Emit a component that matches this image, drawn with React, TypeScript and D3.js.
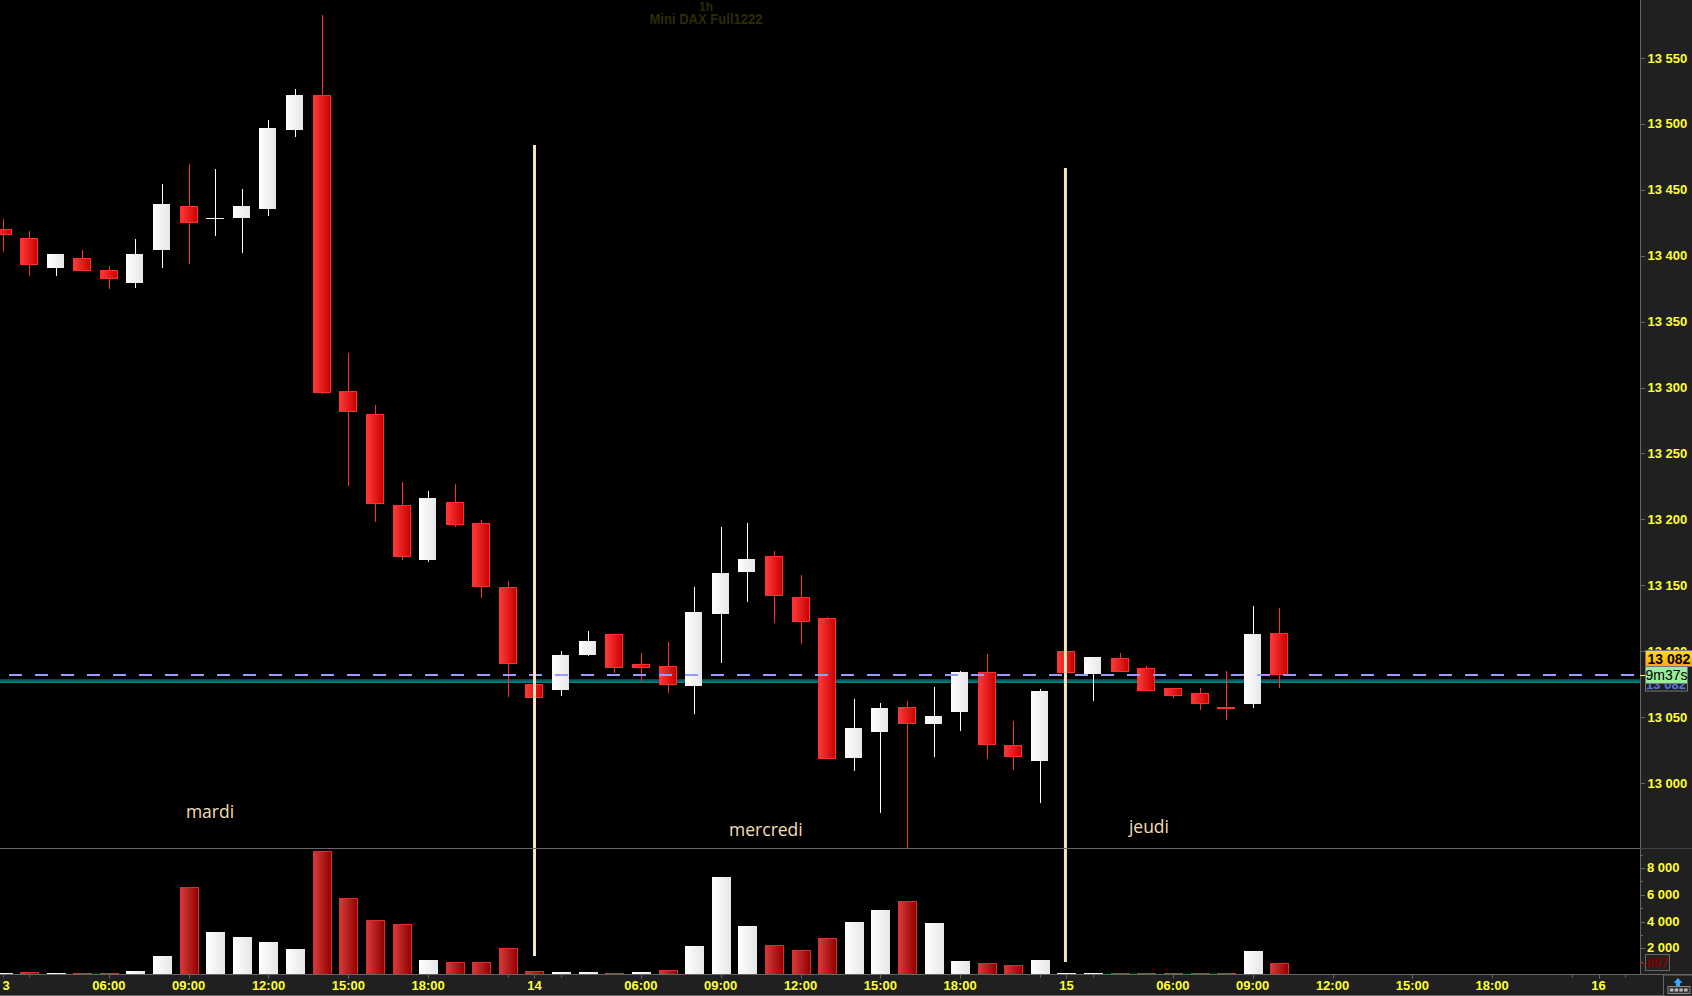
import * as d3 from "d3";

const opens = [13420, 13413.5, 13391, 13398.5, 13389, 13379.5, 13404.5, 13438, 13428.5, 13428.5, 13435.5, 13495.5, 13522, 13297, 13280, 13211, 13169, 13213.5, 13197, 13148.5, 13075, 13070.5, 13097, 13113, 13090.5, 13089, 13073.5, 13128, 13160, 13172, 13141, 13125, 13019, 13038.5, 13057.5, 13045, 13054, 13084, 13029, 13016.5, 13100, 13082.5, 13095, 13087.5, 13072, 13068.5, 13057.5, 13060, 13114];
const closes = [13416, 13393, 13401.5, 13388.5, 13382, 13401.5, 13439.5, 13425, 13428.5, 13438, 13497, 13522, 13296, 13281.5, 13211.5, 13171.5, 13216, 13196, 13148.5, 13090.5, 13064.5, 13097, 13107.5, 13087.5, 13087.5, 13074.5, 13129.5, 13159.5, 13170, 13141.5, 13122.5, 13018.5, 13041.5, 13057, 13045, 13051, 13084, 13029, 13019.5, 13070, 13083.5, 13095.5, 13084.5, 13069.5, 13066, 13060, 13056.5, 13113, 13082];
const highs = [13428, 13419, 13401.5, 13404.5, 13392.5, 13413, 13454.5, 13469.5, 13466, 13450.5, 13503, 13526.5, 13582.5, 13326.5, 13286.5, 13228, 13221.5, 13226.5, 13199.5, 13153.5, 13075, 13100, 13115.5, 13113, 13098.5, 13107, 13148.5, 13194, 13197.5, 13176, 13158, 13126, 13063.5, 13060.5, 13062, 13073, 13085, 13098, 13047, 13071.5, 13100, 13095.5, 13098.5, 13089, 13072, 13072, 13085, 13134.5, 13133];
const lows = [13403, 13385, 13385, 13388.5, 13375, 13375.5, 13390.5, 13394, 13415, 13402, 13430, 13490, 13295, 13225, 13198, 13169, 13167.5, 13194.5, 13140.5, 13065.5, 13064.5, 13066, 13096.5, 13083.5, 13077.5, 13068.5, 13052.5, 13091, 13137.5, 13121.5, 13105.5, 13018.5, 13009, 12977, 12950.5, 13019.5, 13039.5, 13018, 13010, 12985, 13074.5, 13062, 13084.5, 13069.5, 13064.5, 13055.5, 13048, 13057, 13072];

const volumes = [150, 250, 175, 150, 175, 325, 1450, 6550, 3250, 2875, 2500, 1975, 9250, 5725, 4075, 3850, 1150, 1000, 1000, 2050, 325, 250, 250, 175, 250, 400, 2200, 7300, 3700, 2275, 1900, 2800, 4000, 4825, 5500, 3925, 1075, 925, 775, 1150, 150, 175, 175, 150, 150, 175, 175, 1825, 897];
const volumeUp = [1, 0, 1, 0, 0, 1, 1, 0, 1, 1, 1, 1, 0, 0, 0, 0, 1, 0, 0, 0, 0, 1, 1, 0, 1, 0, 1, 1, 1, 0, 0, 0, 1, 1, 0, 1, 1, 0, 0, 1, 1, 1, 0, 0, 0, 0, 0, 1, 0];

const timeTicks = [4, 7, 10, 13, 16, 20, 24, 27, 30, 33, 36, 40, 44, 47, 50, 53, 56, 60];
const timeLabels = ["06:00", "09:00", "12:00", "15:00", "18:00", "14", "06:00", "09:00", "12:00", "15:00", "18:00", "15", "06:00", "09:00", "12:00", "15:00", "18:00", "16"];
const minorTimeTicks = [0, 1, 19, 21, 39, 41, 59, 61];

const priceTicks = [13000, 13050, 13100, 13150, 13200, 13250, 13300, 13350, 13400, 13450, 13500, 13550];
const volumeTicks = [2000, 4000, 6000, 8000];
const minorVolumeTicks = [1000, 3000, 5000, 7000, 9000];

const dayNames = ["mardi", "mercredi", "jeudi"];
const dayNameX = [7.8, 28.7, 43.1];
const dayNameY = [818, 836, 833];

const dayLines = [20, 39.96];
const dayLineTop = [145, 168];
const dayLineBottom = [956, 962];

const lastPrice = 13082;
const tealPrice = 13077.5;

const W = 1692;
const H = 996;
const plotRight = 1640;
const dividerY = 848.5;
const axisY = 974.5;

const x = d3.scaleLinear().domain([0, 60]).range([2.5, 1598.5]);
const y = d3.scaleLinear().domain([13000, 13550]).range([783, 58]);
const yVol = d3.scaleLinear().domain([0, 8000]).range([975, 868]);

const fmt = (v: number) => d3.format(",")(v).replace(",", " ");
const axisFont = "'Liberation Sans', Arial, sans-serif";
const yellow = "#ffff33";

export default function App() {
  return (
    <>
      <style>{"body{margin:0;background:#000}"}</style>
      <svg width={W} height={H} style={{ display: "block" }}>
        <defs>
          <linearGradient id="redBody">
            <stop offset="0" stopColor="#ff3a3a" />
            <stop offset="1" stopColor="#c80000" />
          </linearGradient>
          <linearGradient id="whiteBody">
            <stop offset="0" stopColor="#ffffff" />
            <stop offset="1" stopColor="#e6e6e6" />
          </linearGradient>
          <linearGradient id="redVol">
            <stop offset="0" stopColor="#d83a3a" />
            <stop offset="1" stopColor="#900000" />
          </linearGradient>
          <linearGradient id="teal" x1="0" y1="0" x2="0" y2="1">
            <stop offset="0" stopColor="#004040" />
            <stop offset="1" stopColor="#008c8c" />
          </linearGradient>
          <linearGradient id="gold" x1="0" y1="0" x2="0" y2="1">
            <stop offset="0" stopColor="#ffdd22" />
            <stop offset="1" stopColor="#ffa800" />
          </linearGradient>
        </defs>

        <rect width={W} height={H} fill="#000" />

        {/* title */}
        <g textAnchor="middle" fill="#2d2d00" fontFamily="'Liberation Sans Narrow', 'Liberation Sans', sans-serif">
          <text x={706} y={11} fontSize={12} fontWeight="bold">1h</text>
          <text x={706} y={23.5} fontSize={14} fontWeight="bold" textLength={113} lengthAdjust="spacingAndGlyphs">Mini DAX Full1222</text>
        </g>

        {/* teal level, under the candles */}
        <rect x={0} y={Math.round(y(tealPrice)) - 2} width={plotRight} height={4} fill="url(#teal)" />

        {/* candles */}
        {opens.map((o, i) => {
          const c = closes[i];
          const up = c >= o;
          const top = Math.round(y(Math.max(o, c)));
          const bottom = Math.round(y(Math.min(o, c)));
          const cx = Math.round(x(i));
          const color = up ? "#ffffff" : "#ff3030";
          return (
            <g key={i}>
              <line x1={cx + 0.5} x2={cx + 0.5} y1={Math.round(y(highs[i]))} y2={Math.round(y(lows[i]))} stroke={color} strokeWidth={1} />
              {up ? (
                <rect x={cx - 9} y={top} width={bottom === top ? 18 : 17} height={Math.max(bottom - top, 1)} fill="url(#whiteBody)" />
              ) : (
                <rect x={cx - 8.5} y={top + 0.5} width={17} height={Math.max(bottom - top - 1, 1)} fill="url(#redBody)" stroke={color} strokeWidth={1} />
              )}
            </g>
          );
        })}

        {/* dashed level */}
        <line x1={-17} x2={plotRight} y1={Math.round(y(lastPrice))} y2={Math.round(y(lastPrice))} stroke="#9999ff" strokeWidth={2} strokeDasharray="13 13" />

        {/* volume */}
        {volumes.map((v, i) => {
          const cx = Math.round(x(i));
          const top = Math.round(yVol(v));
          return volumeUp[i] === 1 ? (
            <rect key={i} x={cx - 9} y={top} width={19} height={975 - top} fill="url(#whiteBody)" />
          ) : (
            <rect key={i} x={cx - 8.5} y={top + 0.5} width={18} height={975 - top} fill="url(#redVol)" stroke="#d83030" strokeWidth={1} />
          );
        })}

        {/* day separators */}
        {dayLines.map((d, i) => (
          <line key={d} x1={x(d)} x2={x(d)} y1={dayLineTop[i]} y2={dayLineBottom[i]} stroke="#f2e6b8" strokeWidth={3} />
        ))}

        {/* day names */}
        {dayNames.map((name, i) => (
          <text key={name} x={x(dayNameX[i])} y={dayNameY[i]} textAnchor="middle" fontFamily="'Open Sans', sans-serif" fontSize={17.5} fill="#f5deb3">
            {name}
          </text>
        ))}

        {/* right and bottom strips */}
        <rect x={plotRight} y={0} width={W - plotRight} height={H} fill="#202020" />
        <rect x={0} y={axisY} width={W} height={H - axisY} fill="#202020" />
        <line x1={0} x2={plotRight} y1={dividerY} y2={dividerY} stroke="#666" />
        <line x1={plotRight + 0.5} x2={plotRight + 0.5} y1={0} y2={axisY} stroke="#666" strokeWidth={1} />
        <line x1={0} x2={W} y1={axisY} y2={axisY} stroke="#666" />
        <line x1={plotRight} x2={W} y1={dividerY} y2={dividerY} stroke="#444" />
        <line x1={0} x2={W} y1={995.5} y2={995.5} stroke="#666" />

        {/* price axis */}
        <g fontFamily={axisFont} fontSize={13} fontWeight="bold" fill={yellow}>
          {priceTicks.map((t) => (
            <g key={t}>
              <line x1={plotRight} x2={plotRight + 5} y1={Math.round(y(t)) + 0.5} y2={Math.round(y(t)) + 0.5} stroke="#666" />
              <text x={1647.5} y={y(t) + 4.5}>{fmt(t)}</text>
            </g>
          ))}
          {volumeTicks.map((t) => (
            <g key={t}>
              <line x1={plotRight} x2={plotRight + 5} y1={Math.round(yVol(t)) + 0.5} y2={Math.round(yVol(t)) + 0.5} stroke="#666" />
              <text x={1647} y={yVol(t) + 4}>{fmt(t)}</text>
            </g>
          ))}
        </g>
        {minorVolumeTicks.map((t) => (
          <line key={t} x1={plotRight} x2={plotRight + 3} y1={Math.round(yVol(t)) + 0.5} y2={Math.round(yVol(t)) + 0.5} stroke="#666" />
        ))}

        {/* time axis */}
        <g fontFamily={axisFont} fontSize={13} fontWeight="bold" fill={yellow} textAnchor="middle">
          <text x={6.2} y={990}>3</text>
          {timeTicks.map((t, i) => (
            <g key={t}>
              <line x1={Math.round(x(t)) + 0.5} x2={Math.round(x(t)) + 0.5} y1={axisY} y2={axisY + 4} stroke="#666" />
              <text x={x(t)} y={990}>{timeLabels[i]}</text>
            </g>
          ))}
        </g>
        {minorTimeTicks.map((t) => (
          <line key={t} x1={Math.round(x(t)) + 0.5} x2={Math.round(x(t)) + 0.5} y1={axisY} y2={axisY + 3} stroke="#666" />
        ))}

        {/* price tags */}
        <rect x={1645.5} y={667} width={42} height={24} fill="#202020" stroke="#777" />
        <text x={1666} y={689} textAnchor="middle" fontFamily={axisFont} fontSize={13} fontWeight="bold" fill="#5577dd">{fmt(lastPrice)}</text>
        <line x1={plotRight} x2={1646} y1={Math.round(y(lastPrice)) + 0.5} y2={Math.round(y(lastPrice)) + 0.5} stroke={yellow} />
        <rect x={1645.5} y={650.5} width={47} height={16} fill="url(#gold)" stroke="#777" />
        <text x={1669} y={664} textAnchor="middle" fontFamily={axisFont} fontSize={14} fontWeight="bold" fill="#000">{fmt(lastPrice)}</text>
        <rect x={1645.5} y={666.5} width={42} height={17} fill="#99ee99" stroke="#777" />
        <text x={1666.5} y={680} textAnchor="middle" fontFamily={axisFont} fontSize={14} fill="#000">9m37s</text>

        {/* volume tag */}
        <line x1={plotRight} x2={1645} y1={Math.round(yVol(volumes[48])) + 0.5} y2={Math.round(yVol(volumes[48])) + 0.5} stroke="#cc0000" />
        <rect x={1645.5} y={954.5} width={24} height={16} fill="#222" stroke="#666" />
        <text x={1657.5} y={967} textAnchor="middle" fontFamily={axisFont} fontSize={13} fontWeight="bold" fill="#800000">{volumes[48]}</text>

        {/* corner button */}
        <rect x={1663.5} y={975} width={29} height={21} fill="#202020" stroke="#666" />
        <path d="M1678 978 l4.5 5 h-2.5 v3 h-4 v-3 h-2.5 z" fill="#33aaff" />
        <rect x={1668} y={986.5} width={22} height={7} fill="#333" stroke="#888" />
        {[0, 1, 2, 3].map((k) => (
          <rect key={k} x={1670 + k * 4.7} y={988.5} width={3.4} height={3} fill="#bbb" />
        ))}
      </svg>
    </>
  );
}
